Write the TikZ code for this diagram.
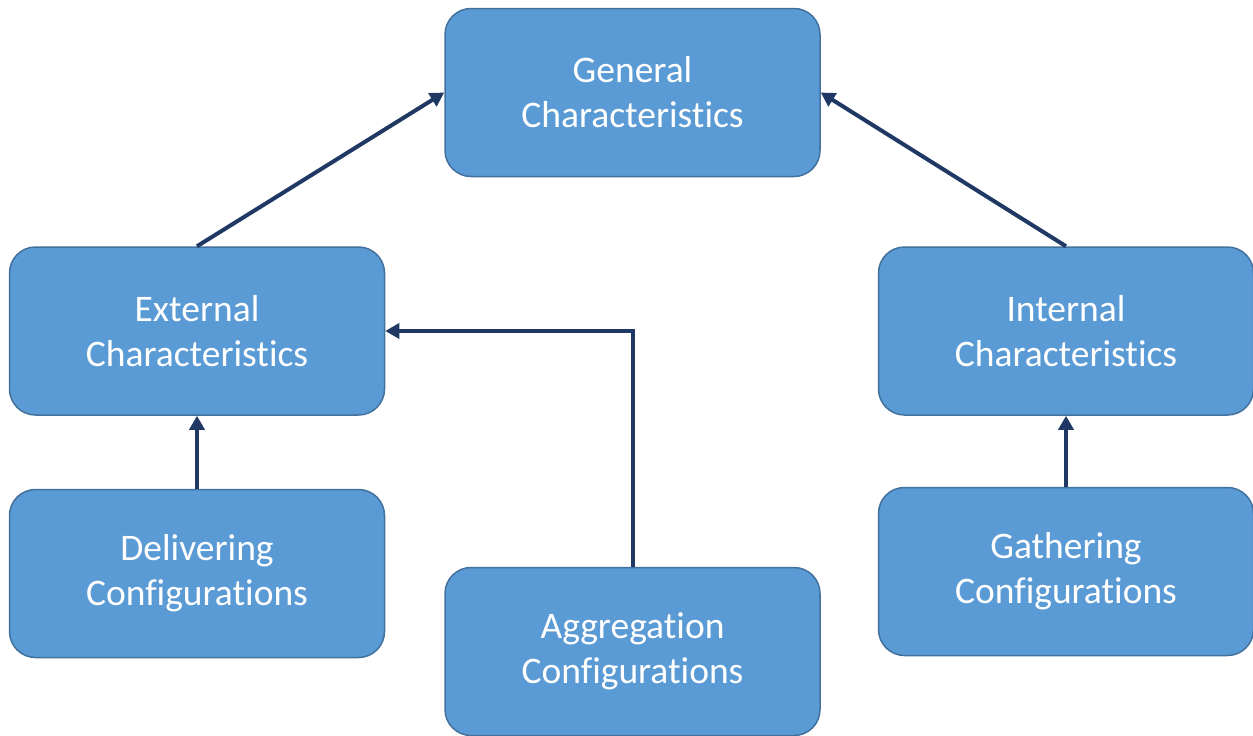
\documentclass[tikz,border=0pt]{standalone}
\usepackage{fontspec}
\setmainfont{Carlito}[Ligatures={NoCommon}]
\usetikzlibrary{arrows.meta}
\definecolor{boxfill}{HTML}{5B9BD5}
\definecolor{boxline}{HTML}{41719C}
\definecolor{arrowc}{HTML}{203864}
\begin{document}
\begin{tikzpicture}[x=1pt,y=-1pt,
  box/.style={draw=boxline, line width=1.5pt, fill=boxfill, rounded corners=26pt,
    minimum width=375pt, minimum height=168pt, align=center, text=white,
    font=\fontsize{37.5}{45}\selectfont, inner sep=0pt},
  conn/.style={draw=arrowc, line width=4pt, -{Triangle[length=14pt,width=15pt]}}]
\useasboundingbox (0,0) rectangle (1253,736);
\node[box] (gen) at (632.5,92.5) {General\\Characteristics};
\node[box] (ext) at (197,331) {External\\Characteristics};
\node[box] (int) at (1066,331) {Internal\\Characteristics};
\node[box] (del) at (197,573.5) {Delivering\\Configurations};
\node[box] (agg) at (632.5,651.5) {Aggregation\\Configurations};
\node[box] (gat) at (1066,571.5) {Gathering\\Configurations};
\draw[conn] (ext.north) -- (gen.west);
\draw[conn] (int.north) -- (gen.east);
\draw[conn] (del.north) -- (ext.south);
\draw[conn] (gat.north) -- (int.south);
\draw[conn] (agg.north) |- (ext.east);
\end{tikzpicture}
\end{document}
